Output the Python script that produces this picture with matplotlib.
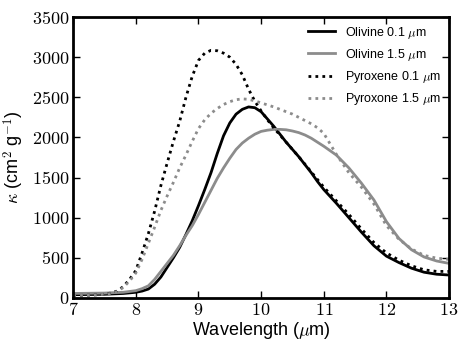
import numpy as np
import matplotlib
matplotlib.use("Agg")
import matplotlib.pyplot as plt
import matplotlib.ticker as mticker

plt.rcParams["font.family"] = ["Liberation Sans", "DejaVu Sans"]
plt.rcParams["mathtext.fontset"] = "cm"

# wavelength (um) and opacity (cm^2 g^-1)
wl_ol01 = [7.0, 7.5, 7.8, 8.0, 8.1, 8.2, 8.3, 8.4, 8.5, 8.6, 8.7, 8.8, 8.9, 9.0,
           9.1, 9.2, 9.3, 9.4, 9.5, 9.6, 9.7, 9.8, 9.9, 10.0, 10.1, 10.2, 10.3,
           10.4, 10.5, 10.6, 10.7, 10.8, 10.9, 11.0, 11.2, 11.4, 11.6, 11.8,
           12.0, 12.2, 12.4, 12.6, 12.8, 13.0]
k_ol01 = [40, 45, 55, 70, 85, 110, 170, 260, 380, 500, 630, 790, 960, 1150,
          1350, 1560, 1800, 2020, 2180, 2290, 2350, 2380, 2370, 2320, 2230, 2140,
          2040, 1940, 1850, 1760, 1660, 1560, 1450, 1350, 1180, 1000, 820, 650,
          520, 440, 370, 320, 295, 285]

wl_ol15 = [7.0, 7.5, 7.8, 8.0, 8.1, 8.2, 8.3, 8.4, 8.5, 8.6, 8.7, 8.8, 8.9, 9.0,
           9.1, 9.2, 9.3, 9.4, 9.5, 9.6, 9.7, 9.8, 9.9, 10.0, 10.1, 10.2, 10.3,
           10.4, 10.5, 10.6, 10.7, 10.8, 10.9, 11.0, 11.2, 11.4, 11.6, 11.8,
           12.0, 12.2, 12.4, 12.6, 12.8, 13.0]
k_ol15 = [55, 60, 70, 90, 115, 150, 230, 330, 430, 530, 650, 780, 900, 1040,
          1190, 1340, 1490, 1620, 1740, 1850, 1930, 1990, 2040, 2075, 2090, 2100,
          2100, 2095, 2080, 2060, 2030, 1990, 1940, 1890, 1780, 1620, 1430, 1220,
          950, 740, 600, 510, 460, 430]

wl_py01 = [7.0, 7.3, 7.5, 7.6, 7.7, 7.8, 7.9, 8.0, 8.1, 8.2, 8.3, 8.4, 8.5, 8.6,
           8.7, 8.8, 8.9, 9.0, 9.1, 9.2, 9.3, 9.4, 9.5, 9.6, 9.7, 9.8, 9.9, 10.0,
           10.1, 10.2, 10.3, 10.4, 10.5, 10.6, 10.8, 11.0, 11.2, 11.4, 11.6,
           11.8, 12.0, 12.2, 12.4, 12.6, 12.8, 13.0]
k_py01 = [30, 35, 45, 60, 85, 140, 230, 340, 560, 800, 1080, 1400, 1680, 1950,
          2200, 2500, 2760, 2960, 3050, 3085, 3080, 3050, 3000, 2910, 2780, 2600,
          2450, 2330, 2220, 2120, 2030, 1940, 1850, 1760, 1570, 1380, 1210, 1040,
          860, 690, 560, 470, 400, 350, 330, 330]

wl_py15 = [7.0, 7.3, 7.5, 7.6, 7.7, 7.8, 7.9, 8.0, 8.1, 8.2, 8.3, 8.4, 8.5, 8.6,
           8.7, 8.8, 8.9, 9.0, 9.1, 9.2, 9.3, 9.4, 9.5, 9.6, 9.7, 9.8, 9.9, 10.0,
           10.1, 10.2, 10.3, 10.4, 10.5, 10.6, 10.7, 10.8, 10.9, 11.0, 11.2,
           11.4, 11.6, 11.8, 12.0, 12.2, 12.4, 12.6, 12.8, 13.0]
k_py15 = [30, 35, 45, 55, 80, 130, 210, 310, 480, 680, 880, 1090, 1270, 1440,
          1620, 1780, 1950, 2110, 2220, 2300, 2360, 2410, 2445, 2470, 2480, 2475,
          2455, 2430, 2405, 2380, 2350, 2320, 2290, 2250, 2210, 2170, 2120, 2050,
          1790, 1560, 1380, 1170, 900, 730, 610, 530, 495, 480]

GREY = "0.55"
DOTS = (0, (1, 1.5))

fig = plt.figure(figsize=(4.63, 3.48), dpi=100)
ax = fig.add_axes([0.158, 0.144, 0.812, 0.807])

ax.plot(wl_ol01, k_ol01, color="black", lw=2, label=r"Olivine 0.1 $\mu$m")
ax.plot(wl_ol15, k_ol15, color=GREY, lw=2, label=r"Olivine 1.5 $\mu$m")
ax.plot(wl_py01, k_py01, color="black", lw=2, ls=DOTS, label=r"Pyroxene 0.1 $\mu$m")
ax.plot(wl_py15, k_py15, color=GREY, lw=2, ls=DOTS, label=r"Pyroxone 1.5 $\mu$m")

ax.set_xlim(7, 13)
ax.set_ylim(0, 3500)
ax.xaxis.set_major_locator(mticker.MultipleLocator(1))
ax.yaxis.set_major_locator(mticker.MultipleLocator(500))
fmt = mticker.FuncFormatter(lambda v, p: f"${v:g}$")
ax.xaxis.set_major_formatter(fmt)
ax.yaxis.set_major_formatter(fmt)
ax.tick_params(direction="in", top=True, right=True, length=5, width=1,
               labelsize=13, pad=3)
for s in ax.spines.values():
    s.set_linewidth(2)

ax.set_xlabel(r"Wavelength ($\mu$m)", fontsize=13, labelpad=1)
ax.set_ylabel(r"$\kappa$ (cm$^2$ g$^{-1}$)", fontsize=13, labelpad=4)

ax.legend(loc="upper right", frameon=False, fontsize=9, handlelength=2.2,
          handletextpad=0.8, borderaxespad=0.2, labelspacing=0.5)

fig.savefig("out.png", dpi=100)
